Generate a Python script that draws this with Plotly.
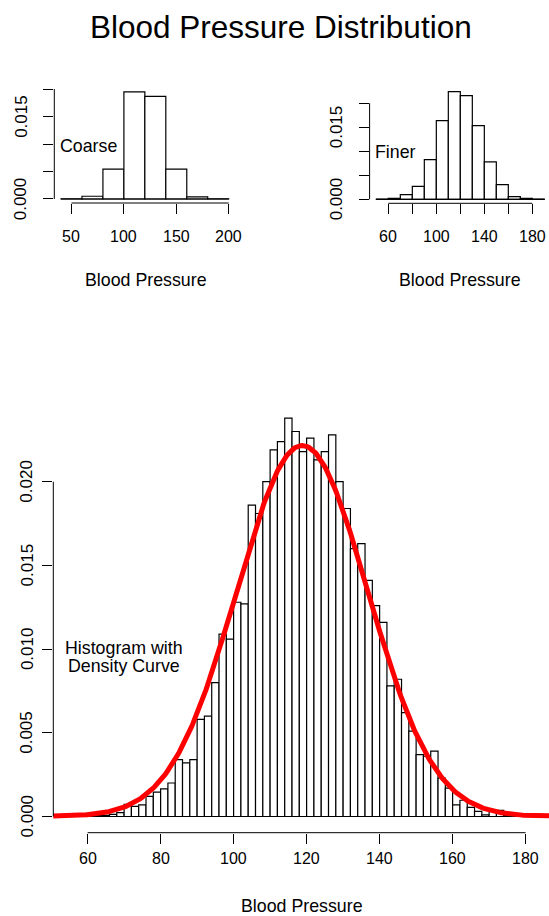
import numpy as np
import plotly.graph_objects as go

FONT = "Liberation Sans, Arial, Helvetica, sans-serif"
W, H = 549, 916

# ---- data -------------------------------------------------------------
# Coarse histogram (20 mmHg bins), density scale
coarse_left = [40, 60, 80, 100, 120, 140, 160, 180]
coarse_density = [0.00003, 0.0005, 0.00545, 0.0195, 0.01867, 0.00545, 0.00038, 0.00003]
COARSE_WIDTH = 20

# Finer histogram (10 mmHg bins)
fine_left = [50, 60, 70, 80, 90, 100, 110, 120, 130, 140, 150, 160, 170, 180]
fine_density = [0.00003, 0.0002, 0.00097, 0.0027, 0.00826, 0.0164, 0.02243,
                0.0216, 0.01535, 0.00778, 0.00306, 0.00056, 0.0002, 0.00003]
FINE_WIDTH = 10

# Detailed histogram (2 mmHg bins) with fitted normal density
detail_left = [56, 58, 60, 62, 64, 66, 68, 70, 72, 74, 76, 78, 80, 82, 84, 86,
               88, 90, 92, 94, 96, 98, 100, 102, 104, 106, 108, 110, 112, 114,
               116, 118, 120, 122, 124, 126, 128, 130, 132, 134, 136, 138, 140,
               142, 144, 146, 148, 150, 152, 154, 156, 158, 160, 162, 164, 166,
               168, 170, 172, 174, 176, 178, 180]
detail_density = [0, 0, 0, 0.00005, 0.00007, 0.00013, 0.00023, 0.00073, 0.0006,
                  0.0007, 0.0012, 0.00145, 0.00165, 0.0020, 0.0034, 0.0032,
                  0.0034, 0.0058, 0.0060, 0.0080, 0.0109, 0.0106, 0.0128, 0.0127,
                  0.0186, 0.0181, 0.0200, 0.0219, 0.0224, 0.0238, 0.0230, 0.0218,
                  0.0226, 0.0213, 0.0218, 0.0228, 0.0200, 0.0184, 0.0160, 0.0163,
                  0.0141, 0.0126, 0.0116, 0.0078, 0.0082, 0.0062, 0.0051, 0.0037,
                  0.0036, 0.0039, 0.0023, 0.0017, 0.0007, 0.00097, 0.00055, 0.0003,
                  0.0001, 0.00037, 0.00037, 0.00005, 0, 0, 0]
DETAIL_WIDTH = 2

BP_MEAN = 118.8
BP_SD = 18.0

# tick positions and the labels drawn at them ("" = tick without label)
density_ticks = [0, 0.005, 0.010, 0.015, 0.020]
sparse_density_labels = ["0.000", "", "", "0.015", ""]
full_density_labels = ["0.000", "0.005", "0.010", "0.015", "0.020"]
coarse_xticks = [50, 100, 150, 200]
coarse_xlabels = ["50", "100", "150", "200"]
bp_xticks = [60, 80, 100, 120, 140, 160, 180]
fine_xlabels = ["60", "", "100", "", "140", "", "180"]
detail_xlabels = ["60", "80", "100", "120", "140", "160", "180"]


def px_x(p):
    return p / W


def px_y(p):
    return 1 - p / H


fig = go.Figure()


def add_hist(left, dens, width, xa, ya):
    centers = [l + width / 2 for l in left]
    fig.add_trace(go.Bar(
        x=centers, y=dens, width=width, xaxis=xa, yaxis=ya,
        marker=dict(color="white", line=dict(color="black", width=1.2)),
        showlegend=False, hoverinfo="skip"))
    # zero line under the full break range
    fig.add_trace(go.Scatter(
        x=[left[0], left[-1] + width], y=[0, 0], mode="lines",
        line=dict(color="black", width=1.2), xaxis=xa, yaxis=ya,
        showlegend=False, hoverinfo="skip"))


add_hist(coarse_left, coarse_density, COARSE_WIDTH, "x", "y")
add_hist(fine_left, fine_density, FINE_WIDTH, "x2", "y2")
add_hist(detail_left, detail_density, DETAIL_WIDTH, "x3", "y3")

xs = np.linspace(48, 192, 400)
pdf = np.exp(-0.5 * ((xs - BP_MEAN) / BP_SD) ** 2) / (BP_SD * np.sqrt(2 * np.pi))
fig.add_trace(go.Scatter(x=xs, y=pdf, mode="lines", xaxis="x3", yaxis="y3",
                         line=dict(color="#ff0000", width=5),
                         showlegend=False, hoverinfo="skip"))

common = dict(showgrid=False, zeroline=False, showline=False, ticks="outside",
              ticklen=10, tickwidth=1, tickcolor="black", showticklabels=False,
              fixedrange=True)

fig.update_layout(
    width=W, height=H, autosize=False, margin=dict(l=0, r=0, t=0, b=0),
    paper_bgcolor="white", plot_bgcolor="white", barmode="overlay",
    xaxis=dict(common, domain=[px_x(54.3), px_x(235.4)], range=[33.6, 206.4],
               anchor="y", tickvals=coarse_xticks),
    yaxis=dict(common, domain=[px_y(203.0), px_y(87.5)], range=[-0.00073, 0.02028],
               anchor="x", tickvals=density_ticks),
    xaxis2=dict(common, domain=[px_x(369.6), 1.0], range=[44.4, 193.9],
                anchor="y2", tickvals=bp_xticks),
    yaxis2=dict(common, domain=[px_y(203.3), px_y(87.3)], range=[-0.00083, 0.02333],
                anchor="x2", tickvals=density_ticks),
    xaxis3=dict(common, domain=[px_x(53.3), 1.0], range=[50.6, 186.4],
                anchor="y3", tickvals=bp_xticks),
    yaxis3=dict(common, domain=[px_y(832.7), px_y(402.2)], range=[-0.000968, 0.02475],
                anchor="x3", tickvals=density_ticks),
)

tick_font = dict(family=FONT, size=16, color="black")
ytick_font = dict(family=FONT, size=17, color="black")
lab = dict(family=FONT, size=17.8, color="black")

# panel: (x axis, y axis, x ticks, x labels, y labels, x-label row px, y-label column px)
panels = [
    ("x", "y", coarse_xticks, coarse_xlabels, sparse_density_labels, 236.7, 21.3),
    ("x2", "y2", bp_xticks, fine_xlabels, sparse_density_labels, 236.9, 336.0),
    ("x3", "y3", bp_xticks, detail_xlabels, full_density_labels, 858.5, 27.0),
]
for xa, ya, xt, xl, yl, xrow, ycol in panels:
    # R-style axis lines spanning first to last tick
    fig.add_shape(type="line", xref=xa, yref=f"{ya} domain", x0=xt[0], x1=xt[-1],
                  y0=0, y1=0, line=dict(color="black", width=1))
    fig.add_shape(type="line", xref=f"{xa} domain", yref=ya, x0=0, x1=0,
                  y0=density_ticks[0], y1=density_ticks[-1],
                  line=dict(color="black", width=1))
    for v, t in zip(xt, xl):
        if t:
            fig.add_annotation(xref=xa, yref="paper", x=v, y=px_y(xrow), text=t,
                               showarrow=False, xanchor="center", yanchor="middle",
                               font=tick_font)
    for v, t in zip(density_ticks, yl):
        if t:
            fig.add_annotation(xref="paper", yref=ya, x=px_x(ycol), y=v, text=t,
                               textangle=-90, showarrow=False, xanchor="center",
                               yanchor="middle", font=ytick_font)

annotations = [
    dict(text="Blood Pressure Distribution", x=px_x(281), y=px_y(26.5),
         font=dict(family=FONT, size=31.5, color="black")),
    dict(text="Blood Pressure", x=px_x(145.5), y=px_y(280), font=lab),
    dict(text="Blood Pressure", x=px_x(460), y=px_y(280), font=lab),
    dict(text="Blood Pressure", x=px_x(302), y=px_y(905.5), font=lab),
    dict(text="Coarse", x=px_x(88.3), y=px_y(146), font=lab),
    dict(text="Finer", x=px_x(395.8), y=px_y(151.7), font=lab),
    dict(text="Histogram with", x=px_x(123.7), y=px_y(647.5), font=lab),
    dict(text="Density Curve", x=px_x(123.7), y=px_y(665.5), font=lab),
]
for a in annotations:
    fig.add_annotation(xref="paper", yref="paper", showarrow=False,
                       xanchor="center", yanchor="middle", **a)

fig.write_html("out.html", config={"responsive": False})
